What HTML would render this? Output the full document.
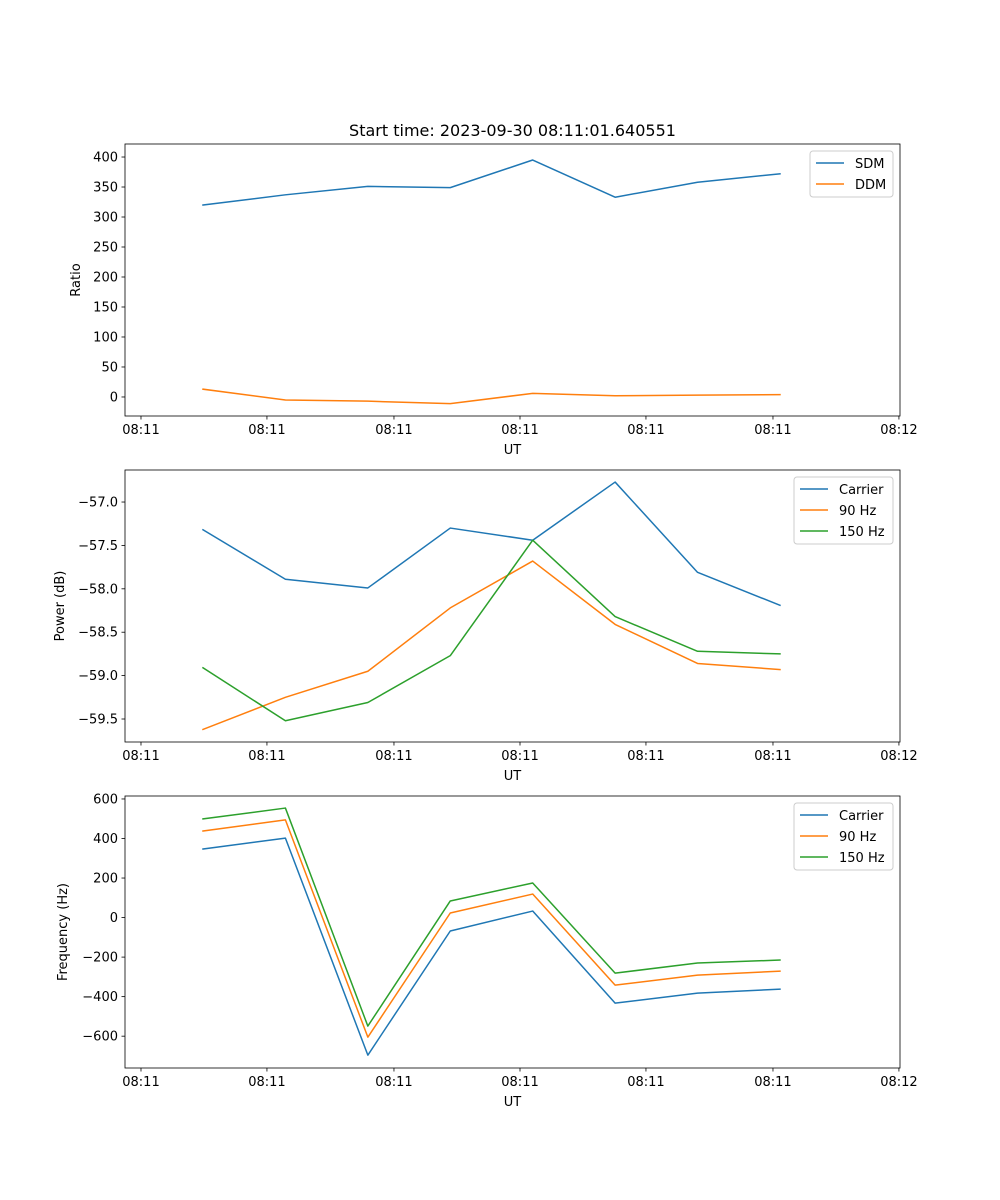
<!DOCTYPE html>
<html><head><meta charset="utf-8"><style>
html,body{margin:0;padding:0;background:#fff;}
svg{display:block;font-family:"DejaVu Sans","Liberation Sans",sans-serif;}
</style></head><body>
<svg id="fig" width="1000" height="1200" viewBox="0 0 1000 1200" xmlns="http://www.w3.org/2000/svg">
<rect width="1000" height="1200" fill="#fff"/>
<text x="512.5" y="136" font-size="16" text-anchor="middle">Start time: 2023-09-30 08:11:01.640551</text>
</svg>
<script>
const xIdx = [0,1,2,3,4,5,6,7];
const xTickPos = [-0.752,0.776,2.317,3.846,5.374,6.915,8.443];
const xTickLabels = ["08:11","08:11","08:11","08:11","08:11","08:11","08:12"];
const sdm = [320,337,351,349,395,333,358,372];
const ddm = [13,-5,-7,-11,6,2,3,4];
const pCarrier = [-57.32,-57.89,-57.99,-57.30,-57.44,-56.77,-57.81,-58.19];
const p90 = [-59.62,-59.25,-58.95,-58.22,-57.68,-58.41,-58.86,-58.93];
const p150 = [-58.91,-59.52,-59.31,-58.77,-57.44,-58.32,-58.72,-58.75];
const fCarrier = [347,402,-696,-68,33,-433,-382,-362];
const f90 = [438,494,-605,23,119,-342,-291,-271];
const f150 = [499,554,-549,84,175,-281,-230,-215];
const ticks1 = [0,50,100,150,200,250,300,350,400];
const ticks2 = [-59.5,-59.0,-58.5,-58.0,-57.5,-57.0];
const ticks3 = [-600,-400,-200,0,200,400,600];

const NS="http://www.w3.org/2000/svg";
const svg=document.getElementById('fig');
function mk(tag,attrs,parent){const e=document.createElementNS(NS,tag);for(const k in attrs)e.setAttribute(k,attrs[k]);(parent||svg).appendChild(e);return e;}
const L=125,R=900,XMIN=-0.946,XMAX=8.456;
function sx(v){return L+(v-XMIN)/(XMAX-XMIN)*(R-L);}
const C={blue:"#1f77b4",orange:"#ff7f0e",green:"#2ca02c"};

function panel(name,top,bot,ymin,ymax,yticks,fmt,ylabel,series,legend){
  const g=mk('g',{});
  
  
  const sy=v=>bot-(v-ymin)/(ymax-ymin)*(bot-top);
  series.forEach(s=>{
    const pts=s.vals.map((v,i)=>sx(xIdx[i]).toFixed(2)+','+sy(v).toFixed(2)).join(' ');
    const pl=mk('polyline',{points:pts,fill:'none',stroke:s.color,'stroke-width':1.5,'stroke-linejoin':'round','stroke-linecap':'square'},g);
    
    
  });
  const fr=mk('rect',{x:L,y:top,width:R-L,height:bot-top,fill:'none',stroke:'#000','stroke-width':0.8},g);
  
  
  xTickPos.forEach((t,i)=>{
    const x=sx(t);
    mk('line',{x1:x,x2:x,y1:bot,y2:bot+3.5,stroke:'#000','stroke-width':0.8},g);
    const tx=mk('text',{x:x,y:bot+18,'font-size':13,'text-anchor':'middle'},g);
    tx.textContent=xTickLabels[i];
    
    
  });
  yticks.forEach(t=>{
    const y=sy(t);
    mk('line',{x1:L-3.5,x2:L,y1:y,y2:y,stroke:'#000','stroke-width':0.8},g);
    const tx=mk('text',{x:L-7,y:y+4.5,'font-size':13,'text-anchor':'end'},g);
    tx.textContent=fmt(t);
    
    
  });
  const xl=mk('text',{x:(L+R)/2,y:bot+38,'font-size':13,'text-anchor':'middle'},g);
  xl.textContent='UT';
  
  
  const yc=(top+bot)/2, yx=legend.ylx;
  const yl=mk('text',{x:yx,y:yc,'font-size':13,'text-anchor':'middle',transform:`rotate(-90 ${yx} ${yc})`},g);
  yl.textContent=ylabel;
  
  
  const lg=mk('g',{},g);
  
  
  const lx=legend.x,ly=top+7,lw=R-7-lx,lh=series.length*21+4;
  mk('rect',{x:lx,y:ly,width:lw,height:lh,rx:3,fill:'#fff','fill-opacity':0.8,stroke:'#ccc','stroke-width':1},lg);
  series.forEach((s,i)=>{
    const y=ly+12+i*21;
    mk('line',{x1:lx+6,x2:lx+34,y1:y,y2:y,stroke:s.color,'stroke-width':1.5},lg);
    const t=mk('text',{x:lx+45,y:y+5,'font-size':13},lg);
    t.textContent=s.label;
    
    
  });
}
panel('ratio-panel',144,416,-31.7,421.7,ticks1,v=>v.toString(),'Ratio',
  [{id:'sdm-line',label:'SDM',vals:sdm,color:C.blue},{id:'ddm-line',label:'DDM',vals:ddm,color:C.orange}],{x:810,ylx:80});
panel('power-panel',470,742,-59.765,-56.631,ticks2,v=>(v<0?'\u2212':'')+Math.abs(v).toFixed(1),'Power (dB)',
  [{id:'power-carrier-line',label:'Carrier',vals:pCarrier,color:C.blue},{id:'power-90hz-line',label:'90 Hz',vals:p90,color:C.orange},{id:'power-150hz-line',label:'150 Hz',vals:p150,color:C.green}],{x:794,ylx:64});
panel('frequency-panel',796,1068,-761,615,ticks3,v=>(v<0?'\u2212':'')+Math.abs(v),'Frequency (Hz)',
  [{id:'freq-carrier-line',label:'Carrier',vals:fCarrier,color:C.blue},{id:'freq-90hz-line',label:'90 Hz',vals:f90,color:C.orange},{id:'freq-150hz-line',label:'150 Hz',vals:f150,color:C.green}],{x:794,ylx:67});
</script>
</body></html>
